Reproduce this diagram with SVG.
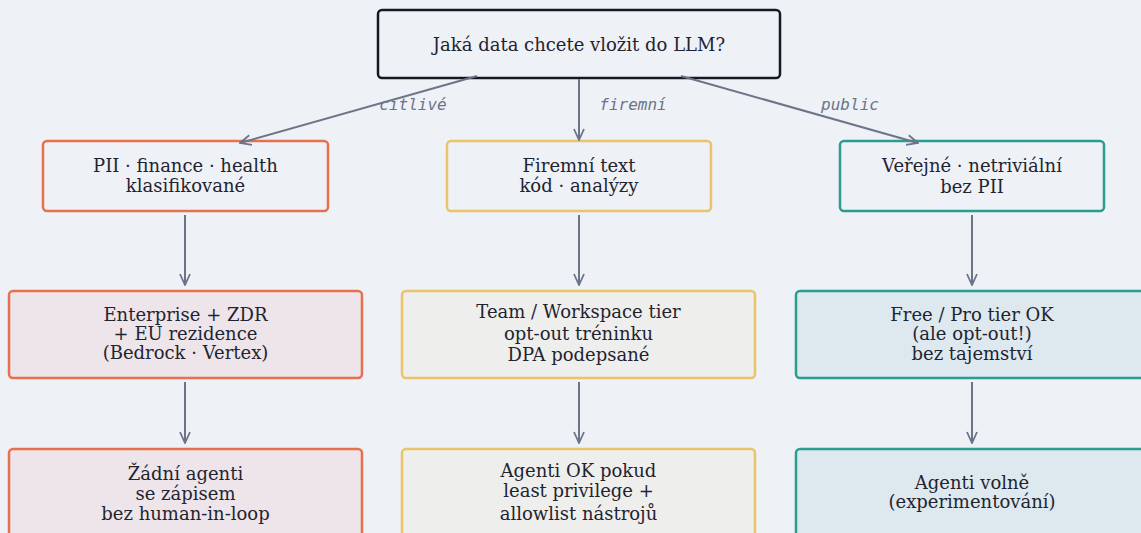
<svg xmlns="http://www.w3.org/2000/svg" width="1141" height="533" viewBox="0 0 1141 533">
<defs>
<marker id="arr" viewBox="0 0 14 14" refX="13" refY="7" markerWidth="14" markerHeight="14" markerUnits="userSpaceOnUse" orient="auto">
<path d="M2,2 L13,7 L2,12" fill="none" stroke="#6b7489" stroke-width="1.8"/>
</marker>
<style>
.t{font-family:"DejaVu Serif",serif;font-size:18px;fill:#1f2430;text-anchor:middle}
.lb{font-family:"DejaVu Sans Mono",monospace;font-style:italic;font-size:16px;fill:#6b7489;text-anchor:middle}
.box{stroke-width:2.5}
.root{fill:#eef1f6;stroke:#141821}
.r{stroke:#e8704f}
.y{stroke:#e9c46a}
.g{stroke:#2a9d8f}
.c2{fill:#eef1f6}
.fr{fill:#ede5e9}
.fy{fill:#eeeeec}
.fg{fill:#dde9ef}
.e{stroke:#6b7489;stroke-width:2;fill:none;marker-end:url(#arr)}
</style>
</defs>
<rect width="1141" height="533" fill="#eef1f6"/>
<g id="root">
<rect class="box root" x="378" y="10" width="402" height="68" rx="4"/>
<text class="t" x="579" y="51">Jaká data chcete vložit do LLM?</text>
</g>
<g id="n-citlive">
<rect class="box r c2" x="43" y="141" width="285" height="70" rx="4"/>
<text class="t" x="185.5" y="172">PII · finance · health</text>
<text class="t" x="185.5" y="192">klasifikované</text>
</g>
<g id="n-firemni">
<rect class="box y c2" x="447" y="141" width="264" height="70" rx="4"/>
<text class="t" x="579" y="172">Firemní text</text>
<text class="t" x="579" y="192">kód · analýzy</text>
</g>
<g id="n-public">
<rect class="box g c2" x="840" y="141" width="264" height="70" rx="4"/>
<text class="t" x="972" y="172">Veřejné · netriviální</text>
<text class="t" x="972" y="193">bez PII</text>
</g>
<g id="n-enterprise">
<rect class="box r fr" x="9" y="291" width="353" height="87" rx="4"/>
<text class="t" x="185.5" y="321">Enterprise + ZDR</text>
<text class="t" x="185.5" y="340">+ EU rezidence</text>
<text class="t" x="185.5" y="359">(Bedrock · Vertex)</text>
</g>
<g id="n-team">
<rect class="box y fy" x="402" y="291" width="353" height="87" rx="4"/>
<text class="t" x="578.5" y="318">Team / Workspace tier</text>
<text class="t" x="578.5" y="340">opt-out tréninku</text>
<text class="t" x="578.5" y="361">DPA podepsané</text>
</g>
<g id="n-free">
<rect class="box g fg" x="796" y="291" width="353" height="87" rx="4"/>
<text class="t" x="972" y="321">Free / Pro tier OK</text>
<text class="t" x="972" y="340">(ale opt-out!)</text>
<text class="t" x="972" y="360">bez tajemství</text>
</g>
<g id="n-zadni">
<rect class="box r fr" x="9" y="449" width="353" height="100" rx="4"/>
<text class="t" x="185.5" y="480">Žádní agenti</text>
<text class="t" x="185.5" y="500">se zápisem</text>
<text class="t" x="185.5" y="520">bez human-in-loop</text>
</g>
<g id="n-agentiok">
<rect class="box y fy" x="402" y="449" width="353" height="100" rx="4"/>
<text class="t" x="578.5" y="477">Agenti OK pokud</text>
<text class="t" x="578.5" y="497">least privilege +</text>
<text class="t" x="578.5" y="520">allowlist nástrojů</text>
</g>
<g id="n-volne">
<rect class="box g fg" x="796" y="449" width="353" height="100" rx="4"/>
<text class="t" x="972" y="489">Agenti volně</text>
<text class="t" x="972" y="508">(experimentování)</text>
</g>
<g id="connectors">
<line class="e" x1="477" y1="76" x2="240" y2="143"/>
<line class="e" x1="579" y1="79" x2="579" y2="140"/>
<line class="e" x1="681" y1="76" x2="918" y2="143"/>
<line class="e" x1="185" y1="215" x2="185" y2="285"/>
<line class="e" x1="579" y1="215" x2="579" y2="285"/>
<line class="e" x1="972" y1="215" x2="972" y2="285"/>
<line class="e" x1="185" y1="382" x2="185" y2="443"/>
<line class="e" x1="579" y1="382" x2="579" y2="443"/>
<line class="e" x1="972" y1="382" x2="972" y2="443"/>
<text class="lb" x="413" y="110">citlivé</text>
<text class="lb" x="633" y="110">firemní</text>
<text class="lb" x="850" y="110">public</text>
</g>
</svg>
